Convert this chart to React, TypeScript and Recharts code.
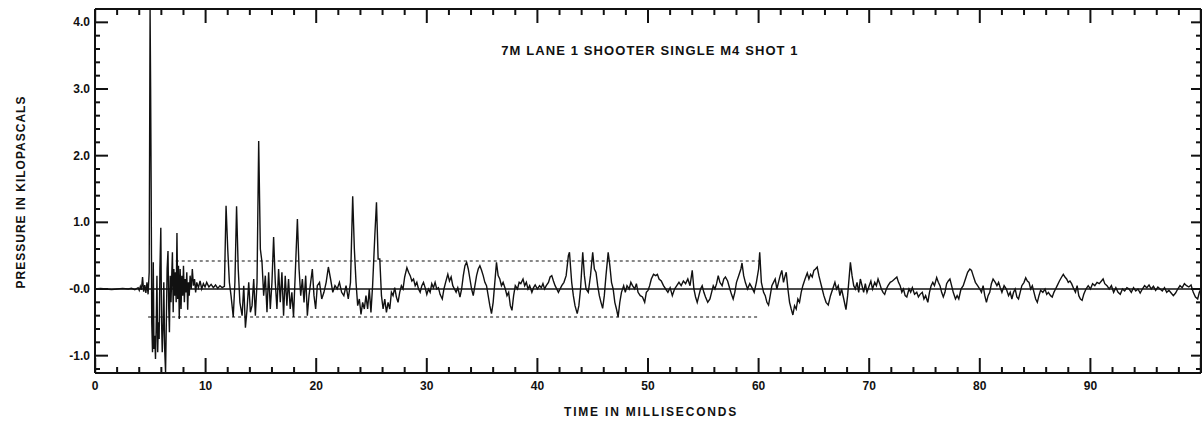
import React from 'react';
import { LineChart, Line, XAxis, YAxis, ReferenceLine } from 'recharts';

// time (ms), pressure (kPa)
const quietSegment: Array<[number, number]> = [
  [0, 0], [0.5, 0.01], [1, 0], [1.5, -0.01], [2, 0], [2.5, 0.01], [3, 0], [3.3, 0.01], [3.6, -0.01],
  [3.9, 0.02], [4.0, -0.02], [4.1, 0.04], [4.2, -0.01], [4.3, 0.18], [4.4, -0.04], [4.5, 0.06],
  [4.6, -0.06], [4.7, 0.1], [4.8, -0.08], [4.9, 0.25],
];

const blastSegment: Array<[number, number]> = [
  [4.98, 4.2], [5.03, 3.0], [5.08, 1.5], [5.13, -0.5], [5.2, -0.95], [5.27, 0.4], [5.33, -0.9], [5.4, -0.7],
  [5.47, -1.05], [5.53, -0.6], [5.6, 0.2], [5.67, -0.95], [5.73, -0.5], [5.8, -0.75], [5.87, 0.3], [5.95, 0.92],
  [6.02, -0.5], [6.08, -0.95], [6.15, -0.6], [6.22, 0.1], [6.3, -0.9], [6.38, -1.25], [6.45, -0.5], [6.52, 0.3],
  [6.6, 0.57], [6.67, -0.3], [6.73, -0.65], [6.8, 0.2], [6.87, -0.2], [6.93, 0.15], [7.0, 0.55], [7.07, -0.35],
  [7.13, 0.3], [7.2, -0.1], [7.27, 0.25], [7.34, -0.2], [7.41, 0.84], [7.48, -0.15], [7.55, 0.35], [7.62, -0.45],
  [7.7, 0.3], [7.78, -0.3], [7.85, 0.2], [7.93, -0.1], [8.0, 0.35], [8.08, -0.2], [8.15, 0.15], [8.23, -0.05],
  [8.3, 0.25], [8.38, -0.31], [8.45, 0.1], [8.52, -0.1], [8.6, 0.2], [8.7, 0.0], [8.8, 0.3], [8.9, 0.05],
  [9.0, 0.15], [9.1, -0.05], [9.2, 0.1], [9.35, 0.02], [9.5, 0.12], [9.65, 0.0], [9.8, 0.08], [9.95, 0.03],
  [10.1, 0.1], [10.3, 0.03], [10.5, 0.07], [10.7, 0.02], [10.9, 0.06], [11.1, 0.01], [11.3, 0.05], [11.5, 0.02],
  [11.7, 0.04],
];

const reflectionSegment: Array<[number, number]> = [
  [11.85, 1.25], [12.0, 0.6], [12.15, 0.1], [12.3, -0.1], [12.5, -0.42], [12.65, 0.1], [12.8, 1.24], [12.95, 0.3],
  [13.1, -0.2], [13.3, -0.4], [13.45, 0.05], [13.6, -0.58], [13.75, -0.3], [13.9, 0.1], [14.05, -0.35], [14.2, -0.25],
  [14.35, 0.15], [14.5, -0.4], [14.65, 0.1], [14.8, 2.22], [14.95, 0.6], [15.1, 0.4], [15.25, -0.1], [15.4, 0.2],
  [15.55, -0.35], [15.7, 0.25], [15.85, -0.3], [16.0, 0.1], [16.15, 0.78], [16.3, 0.1], [16.45, -0.3], [16.6, 0.3],
  [16.75, -0.2], [16.9, 0.25], [17.05, -0.4], [17.2, 0.2], [17.35, -0.25], [17.5, 0.15], [17.65, -0.3], [17.8, -0.05],
  [17.95, -0.42], [18.1, 0.2], [18.3, 1.05], [18.45, 0.3], [18.6, -0.1], [18.75, 0.15], [18.9, -0.2], [19.05, 0.2],
  [19.2, -0.4], [19.35, -0.1], [19.5, 0.1], [19.65, 0.3], [19.8, -0.1], [19.95, -0.3], [20.1, 0.05], [20.3, 0.1],
  [20.5, -0.15], [20.7, -0.05], [20.9, 0.1], [21.1, 0.33], [21.3, 0.15], [21.5, -0.05], [21.7, 0.05], [21.9, 0.0],
  [22.1, 0.1], [22.3, -0.05], [22.5, -0.1], [22.7, 0.05], [22.9, -0.15], [23.1, 0.1], [23.3, 1.39], [23.45, 0.6],
  [23.6, 0.1], [23.75, -0.25], [23.9, -0.15], [24.05, -0.38], [24.2, -0.2], [24.35, -0.3], [24.5, -0.1], [24.65, -0.3],
  [24.8, 0.0], [24.95, -0.35], [25.1, 0.05], [25.3, 0.8], [25.45, 1.3], [25.6, 0.45],
];

const midSegment: Array<[number, number]> = [
  [25.75, 0.45], [25.9, -0.1], [26.05, -0.3], [26.2, -0.15], [26.35, -0.35], [26.5, -0.2], [26.65, -0.3], [26.8, -0.05],
  [26.95, -0.1], [27.1, 0.02], [27.25, -0.12], [27.4, -0.2], [27.55, -0.05], [27.7, 0.05], [27.85, 0.0], [28.0, 0.18],
  [28.2, 0.32], [28.35, 0.25], [28.5, 0.2], [28.65, 0.12], [28.8, 0.15], [28.95, 0.05], [29.1, 0.1], [29.25, 0.0],
  [29.4, -0.05], [29.55, 0.05], [29.7, 0.1], [29.85, 0.02], [30.0, -0.08], [30.15, 0.0], [30.3, -0.05], [30.45, 0.08],
  [30.6, 0.02], [30.75, 0.1], [30.9, 0.0], [31.05, 0.02], [31.2, -0.08], [31.4, -0.15], [31.55, 0.0], [31.7, 0.1],
  [31.9, 0.22], [32.05, 0.12], [32.2, 0.18], [32.35, 0.05], [32.5, 0.0], [32.65, -0.05], [32.8, 0.02], [33.0, -0.12],
  [33.15, 0.0], [33.3, 0.2], [33.45, 0.35], [33.6, 0.4], [33.75, 0.3], [33.9, 0.15], [34.05, 0.0], [34.2, -0.1],
  [34.35, 0.05], [34.5, 0.2], [34.65, 0.3], [34.8, 0.35], [34.95, 0.28], [35.1, 0.2], [35.25, 0.1], [35.4, 0.05],
  [35.55, -0.1], [35.7, -0.25], [35.85, -0.37], [36.0, -0.2], [36.15, 0.1], [36.3, 0.4], [36.45, 0.2], [36.6, 0.15],
  [36.75, 0.05], [36.9, 0.1], [37.1, 0.0], [37.25, -0.1], [37.4, -0.05], [37.55, -0.25], [37.7, -0.32], [37.85, -0.1],
  [38.0, 0.05], [38.2, 0.0], [38.35, 0.1], [38.5, 0.08], [38.7, 0.15], [38.85, 0.05], [39.0, 0.1], [39.15, 0.0],
  [39.3, 0.05], [39.5, -0.05], [39.65, 0.02], [39.8, 0.06], [40.0, 0.0], [40.2, 0.05], [40.35, 0.02], [40.5, 0.08],
  [40.65, 0.0], [40.8, 0.05], [41.0, 0.1], [41.15, 0.18], [41.3, 0.2], [41.45, 0.12], [41.6, 0.05], [41.75, 0.0],
  [41.9, -0.05], [42.05, 0.0], [42.2, 0.05], [42.4, 0.1], [42.6, 0.2], [42.8, 0.5], [42.9, 0.55],
  [43.1, 0.1], [43.25, -0.1], [43.4, -0.25], [43.6, -0.37], [43.75, -0.25], [43.9, 0.0], [44.1, 0.55], [44.25, 0.2],
  [44.4, 0.0], [44.6, -0.05], [44.8, 0.2], [45.0, 0.55], [45.15, 0.3], [45.3, 0.25], [45.45, 0.05], [45.6, -0.1],
  [45.75, -0.2], [45.9, -0.29], [46.05, -0.1], [46.2, 0.2], [46.4, 0.55], [46.55, 0.35], [46.7, 0.1], [46.85, 0.0],
  [47.0, -0.2], [47.15, -0.3], [47.3, -0.42], [47.45, -0.2], [47.6, -0.05], [47.8, 0.05], [47.95, -0.05], [48.1, 0.05],
  [48.3, 0.0], [48.45, 0.1], [48.6, 0.05], [48.8, 0.0], [48.95, 0.08], [49.1, -0.05], [49.3, -0.1], [49.5, -0.12],
  [49.7, -0.2], [49.85, -0.05], [50.0, -0.02], [50.15, 0.05], [50.3, 0.15], [50.5, 0.22], [50.7, 0.2], [50.85, 0.22],
  [51.0, 0.15], [51.2, 0.12], [51.4, 0.05], [51.6, 0.0], [51.8, -0.05], [52.0, 0.02], [52.2, -0.1], [52.4, 0.0],
  [52.6, 0.05], [52.8, 0.1], [53.0, 0.05], [53.2, 0.12], [53.4, 0.08], [53.6, 0.15], [53.8, 0.05], [54.0, 0.28],
  [54.15, 0.0], [54.3, -0.12], [54.45, -0.2], [54.6, -0.1], [54.75, 0.0], [54.9, 0.05], [55.05, -0.05], [55.2, -0.12],
  [55.4, -0.2], [55.6, -0.15], [55.75, -0.05], [55.9, 0.05], [56.05, 0.0], [56.2, 0.08], [56.35, 0.2], [56.5, 0.1],
  [56.7, 0.05], [56.85, 0.15], [57.0, 0.18], [57.2, 0.12], [57.4, 0.0], [57.55, -0.08], [57.7, -0.15], [57.85, -0.05],
  [58.0, 0.1], [58.2, 0.2], [58.4, 0.3], [58.5, 0.39], [58.65, 0.2], [58.8, 0.1], [59.0, 0.0], [59.2, 0.08],
  [59.4, 0.02], [59.6, -0.05], [59.8, 0.1], [60.0, 0.3], [60.1, 0.55], [60.25, 0.1], [60.45, -0.05],
];

const tailSegment: Array<[number, number]> = [
  [60.6, -0.1], [60.75, -0.2], [60.9, -0.24], [61.05, -0.1], [61.2, 0.05], [61.35, 0.1], [61.5, 0.15], [61.65, 0.0],
  [61.8, 0.1], [61.95, 0.2], [62.1, 0.28], [62.25, 0.1], [62.4, 0.2], [62.5, 0.25], [62.65, 0.0], [62.8, -0.2],
  [62.95, -0.3], [63.1, -0.39], [63.25, -0.25], [63.4, -0.3], [63.55, -0.15], [63.7, -0.2], [63.85, -0.05], [64.0, 0.05],
  [64.2, 0.15], [64.4, 0.24], [64.55, 0.15], [64.7, 0.22], [64.85, 0.18], [65.0, 0.28], [65.15, 0.3], [65.3, 0.33],
  [65.45, 0.2], [65.6, 0.1], [65.75, 0.0], [65.9, -0.1], [66.1, -0.2], [66.3, -0.24], [66.5, -0.1], [66.7, 0.0],
  [66.9, 0.1], [67.05, 0.0], [67.2, 0.05], [67.35, -0.1], [67.5, 0.0], [67.7, -0.15], [67.9, -0.31], [68.05, -0.1],
  [68.2, 0.2], [68.3, 0.4], [68.45, 0.2], [68.6, 0.05], [68.75, 0.0], [68.9, 0.1], [69.05, -0.05], [69.2, 0.15],
  [69.35, 0.05], [69.5, -0.05], [69.65, 0.08], [69.8, -0.05], [70.0, 0.05], [70.15, 0.12], [70.3, 0.0], [70.5, 0.1],
  [70.65, 0.05], [70.8, 0.15], [70.95, 0.08], [71.1, 0.0], [71.25, -0.05], [71.4, -0.08], [71.55, 0.0], [71.7, 0.05],
  [71.9, 0.1], [72.1, 0.12], [72.3, 0.15], [72.5, 0.18], [72.65, 0.1], [72.8, 0.05], [72.95, -0.05], [73.1, 0.0],
  [73.25, -0.1], [73.4, -0.12], [73.6, 0.0], [73.75, -0.05], [73.9, 0.02], [74.1, -0.08], [74.3, -0.05], [74.45, -0.12],
  [74.6, -0.08], [74.8, -0.05], [74.95, -0.15], [75.1, -0.1], [75.3, -0.2], [75.45, -0.05], [75.6, 0.05], [75.75, 0.1],
  [75.9, 0.05], [76.1, 0.17], [76.25, 0.1], [76.4, 0.05], [76.55, -0.05], [76.7, -0.12], [76.85, -0.05], [77.0, 0.08],
  [77.15, 0.12], [77.3, 0.15], [77.45, 0.05], [77.6, -0.05], [77.8, -0.15], [77.95, -0.1], [78.1, -0.15], [78.3, 0.0],
  [78.5, 0.05], [78.7, 0.15], [78.9, 0.25], [79.1, 0.3], [79.25, 0.28], [79.4, 0.2], [79.6, 0.1], [79.8, 0.05],
  [80.0, 0.0], [80.15, -0.05], [80.3, 0.05], [80.45, -0.1], [80.6, -0.2], [80.75, -0.1], [80.9, -0.05], [81.05, 0.08],
  [81.2, 0.15], [81.4, 0.1], [81.55, 0.05], [81.7, 0.1], [81.85, 0.02], [82.0, -0.05], [82.2, 0.05], [82.4, 0.0],
  [82.6, -0.1], [82.75, -0.05], [82.9, -0.15], [83.05, -0.05], [83.2, 0.0], [83.35, -0.12], [83.5, -0.15], [83.65, -0.05],
  [83.8, 0.05], [84.0, 0.1], [84.15, 0.17], [84.3, 0.12], [84.45, 0.1], [84.6, 0.0], [84.75, 0.05], [84.9, -0.05],
  [85.05, -0.15], [85.2, -0.2], [85.35, -0.1], [85.5, -0.02], [85.7, -0.05], [85.9, 0.0], [86.05, -0.08], [86.2, -0.05],
  [86.4, -0.1], [86.55, -0.12], [86.7, -0.05], [86.85, 0.0], [87.0, 0.05], [87.2, 0.12], [87.4, 0.18], [87.55, 0.22],
  [87.7, 0.18], [87.85, 0.15], [88.0, 0.1], [88.15, 0.12], [88.3, 0.08], [88.5, 0.0], [88.65, -0.05], [88.8, 0.05],
  [88.95, -0.1], [89.1, -0.15], [89.25, -0.17], [89.4, -0.08], [89.6, 0.0], [89.8, 0.05], [90.0, 0.0], [90.2, 0.08],
  [90.4, 0.05], [90.6, 0.1], [90.8, 0.08], [91.0, 0.12], [91.15, 0.15], [91.3, 0.08], [91.5, 0.05], [91.7, 0.0],
  [91.9, 0.05], [92.1, -0.05], [92.3, 0.02], [92.5, -0.05], [92.7, -0.08], [92.9, 0.0], [93.1, -0.03], [93.3, 0.02],
  [93.5, 0.0], [93.7, -0.05], [93.9, 0.02], [94.1, -0.03], [94.3, 0.0], [94.5, -0.06], [94.7, 0.0], [94.9, 0.05],
  [95.1, 0.02], [95.3, 0.06], [95.5, 0.0], [95.7, 0.04], [95.9, -0.02], [96.1, 0.03], [96.3, 0.0], [96.5, -0.03],
  [96.7, 0.02], [96.9, -0.05], [97.1, -0.02], [97.3, -0.06], [97.5, -0.1], [97.7, -0.06], [97.9, 0.0], [98.1, 0.05],
  [98.3, 0.02], [98.5, 0.08], [98.7, 0.05], [98.9, 0.03], [99.1, 0.06], [99.3, -0.05], [99.5, -0.12], [99.7, -0.15],
  [99.85, -0.05], [100, 0.0],
];

// dotted envelope lines: [startMs, endMs, kPa]
const upperBand: [number, number, number] = [7.3, 60.2, 0.42];
const lowerBand: [number, number, number] = [4.8, 60.1, -0.42];

const xTicks = [0, 2, 4, 6, 8, 10, 12, 14, 16, 18, 20, 22, 24, 26, 28, 30, 32, 34, 36, 38, 40, 42, 44, 46, 48, 50,
  52, 54, 56, 58, 60, 62, 64, 66, 68, 70, 72, 74, 76, 78, 80, 82, 84, 86, 88, 90, 92, 94, 96, 98, 100];
const xLabels = ['0', '10', '20', '30', '40', '50', '60', '70', '80', '90'];
const yTicks = [-1.2, -1.0, -0.8, -0.6, -0.4, -0.2, 0, 0.2, 0.4, 0.6, 0.8, 1.0, 1.2, 1.4, 1.6, 1.8, 2.0, 2.2, 2.4,
  2.6, 2.8, 3.0, 3.2, 3.4, 3.6, 3.8, 4.0];
const yLabelValues = [-1, 0, 1, 2, 3, 4];
const yLabels = ['-1.0', '-0.0', '1.0', '2.0', '3.0', '4.0'];

const title = '7M LANE 1 SHOOTER SINGLE M4 SHOT 1';
const xTitle = 'TIME IN MILLISECONDS';
const yTitle = 'PRESSURE IN KILOPASCALS';

const trace = [...quietSegment, ...blastSegment, ...reflectionSegment, ...midSegment, ...tailSegment]
  .map(([t, p]) => ({ t, p }));

const FONT = '"Liberation Sans", Arial, sans-serif';
const INK = '#111';

const X_MIN = 0;
const X_MAX = 100;
const Y_MIN = -1.26;
const Y_MAX = 4.2;
// plot box is 1106 x 364 px; used to turn tick lengths in px into data units
const msPerPx = (X_MAX - X_MIN) / 1106;
const kpaPerPx = (Y_MAX - Y_MIN) / 364;
// keep tick segment ends just inside the domain so they are not discarded
const EPS_X = 0.02;
const EPS_Y = 0.002;

const isMajorX = (v: number) => v % 10 === 0;
const isMajorY = (v: number) => Math.abs(v - Math.round(v)) < 1e-6;

const BottomLabel = (props: any) => {
  const v = props.payload.value;
  if (!isMajorX(v) || v >= 100) return <g />;
  return (
    <text x={props.x} y={props.y + 17} textAnchor="middle" fontSize={12} fontWeight="bold" fontFamily={FONT} fill={INK}>
      {xLabels[v / 10]}
    </text>
  );
};

const LeftLabel = (props: any) => {
  const v = props.payload.value;
  const idx = yLabelValues.indexOf(Math.round(v));
  if (!isMajorY(v) || idx < 0) return <g />;
  return (
    <text x={props.x - 5} y={props.y + 4} textAnchor="end" fontSize={12} fontWeight="bold" fontFamily={FONT} fill={INK}>
      {yLabels[idx]}
    </text>
  );
};

export default function App() {
  return (
    <div style={{ position: 'absolute', left: 0, top: 0, width: 1204, height: 426 }}>
      <LineChart width={1204} height={426} data={trace} margin={{ top: 8, right: 2, bottom: 52, left: 94 }}>
        <XAxis
          dataKey="t"
          type="number"
          domain={[X_MIN, X_MAX]}
          ticks={xTicks}
          interval={0}
          height={1}
          tickSize={0}
          tickMargin={0}
          tickLine={false}
          tick={BottomLabel}
          axisLine={{ stroke: INK, strokeWidth: 2 }}
        />
        <XAxis
          xAxisId="top"
          dataKey="t"
          orientation="top"
          type="number"
          domain={[X_MIN, X_MAX]}
          height={1}
          tick={false}
          tickLine={false}
          axisLine={{ stroke: INK, strokeWidth: 2 }}
        />
        <YAxis
          type="number"
          domain={[Y_MIN, Y_MAX]}
          allowDataOverflow
          ticks={yTicks}
          interval={0}
          width={1}
          tickSize={0}
          tickMargin={0}
          tickLine={false}
          tick={LeftLabel}
          axisLine={{ stroke: INK, strokeWidth: 2 }}
        />
        <YAxis
          yAxisId="right"
          orientation="right"
          type="number"
          domain={[Y_MIN, Y_MAX]}
          allowDataOverflow
          width={1}
          tick={false}
          tickLine={false}
          axisLine={{ stroke: INK, strokeWidth: 2 }}
        />

        {/* inward tick marks on all four sides */}
        {xTicks.map((v) => (
          <ReferenceLine
            key={`b${v}`}
            segment={[
              { x: Math.min(Math.max(v, X_MIN + EPS_X), X_MAX - EPS_X), y: Y_MIN + EPS_Y },
              { x: Math.min(Math.max(v, X_MIN + EPS_X), X_MAX - EPS_X), y: Y_MIN + (isMajorX(v) ? 15 : 6) * kpaPerPx },
            ]}
            stroke={INK}
            strokeWidth={2}
          />
        ))}
        {xTicks.map((v) => (
          <ReferenceLine
            key={`t${v}`}
            segment={[
              { x: Math.min(Math.max(v, X_MIN + EPS_X), X_MAX - EPS_X), y: Y_MAX - EPS_Y },
              { x: Math.min(Math.max(v, X_MIN + EPS_X), X_MAX - EPS_X), y: Y_MAX - (isMajorX(v) ? 14 : 6) * kpaPerPx },
            ]}
            stroke={INK}
            strokeWidth={2}
          />
        ))}
        {yTicks.map((v) => (
          <ReferenceLine
            key={`l${v}`}
            segment={[{ x: X_MIN + EPS_X, y: v }, { x: X_MIN + (isMajorY(v) ? 13 : 5) * msPerPx, y: v }]}
            stroke={INK}
            strokeWidth={2}
          />
        ))}
        {yTicks.map((v) => (
          <ReferenceLine
            key={`r${v}`}
            segment={[{ x: X_MAX - EPS_X, y: v }, { x: X_MAX - (isMajorY(v) ? 10 : 5) * msPerPx, y: v }]}
            stroke={INK}
            strokeWidth={2}
          />
        ))}

        <ReferenceLine y={0} stroke={INK} strokeWidth={1.5} />
        <ReferenceLine
          segment={[{ x: upperBand[0], y: upperBand[2] }, { x: upperBand[1], y: upperBand[2] }]}
          stroke={INK}
          strokeWidth={1.2}
          strokeDasharray="3 3"
        />
        <ReferenceLine
          segment={[{ x: lowerBand[0], y: lowerBand[2] }, { x: lowerBand[1], y: lowerBand[2] }]}
          stroke={INK}
          strokeWidth={1.2}
          strokeDasharray="3 3"
        />
        <Line
          type="linear"
          dataKey="p"
          stroke={INK}
          strokeWidth={1.4}
          dot={false}
          isAnimationActive={false}
        />
      </LineChart>
      <div style={{ position: 'absolute', left: 0, top: 43, width: 1204, textAlign: 'center', font: `bold 13px ${FONT}`, letterSpacing: 1.1, color: INK, paddingLeft: 96, boxSizing: 'border-box' }}>
        {title}
      </div>
      <div style={{ position: 'absolute', left: 0, top: 405, width: 1204, textAlign: 'center', font: `bold 12px ${FONT}`, letterSpacing: 1.8, color: INK, paddingLeft: 98, boxSizing: 'border-box' }}>
        {xTitle}
      </div>
      <div style={{ position: 'absolute', left: 21 - 110, top: 192 - 7, width: 220, textAlign: 'center', font: `bold 12px ${FONT}`, letterSpacing: 1, color: INK, transform: 'rotate(-90deg)' }}>
        {yTitle}
      </div>
    </div>
  );
}
